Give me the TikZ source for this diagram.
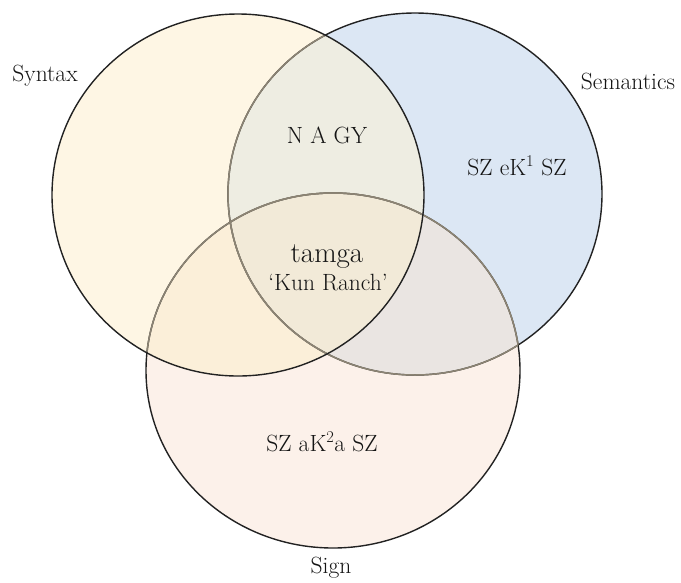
\documentclass[tikz,border=0pt]{standalone}
\definecolor{synC}{HTML}{FEF6E4}
\definecolor{semC}{HTML}{DCE7F4}
\definecolor{sigC}{HTML}{FCF1EA}
\definecolor{synsemC}{HTML}{EEEDE2}
\definecolor{synsigC}{HTML}{FBEFD9}
\definecolor{semsigC}{HTML}{EAE5E2}
\definecolor{allC}{HTML}{F2EAD8}
\definecolor{edgeC}{HTML}{222222}
\definecolor{inedgeC}{HTML}{8C8474}
\begin{document}
\begin{tikzpicture}[x=1pt,y=-1pt,
  lbl/.style={inner sep=0pt,font=\fontsize{23.5}{27}\selectfont,text=black!92},
  big/.style={inner sep=0pt,font=\fontsize{29}{33}\selectfont,text=black!92},
  outline/.style={draw=edgeC,line width=1.4pt},
  inline/.style={draw=inedgeC,line width=1.5pt}]
\useasboundingbox (0,0) rectangle (681,582);
\def\synP{(238,195) ellipse [x radius=186,y radius=181]}
\def\semP{(415,194) ellipse [x radius=187,y radius=181]}
\def\sigP{(333,370.5) ellipse [x radius=187,y radius=177.5]}
% base fills
\fill[synC] \synP;
\fill[semC] \semP;
\fill[sigC] \sigP;
% pairwise overlaps
\begin{scope}
  \clip \synP;
  \fill[synsemC] \semP;
  \fill[synsigC] \sigP;
\end{scope}
\begin{scope}
  \clip \semP;
  \fill[semsigC] \sigP;
\end{scope}
\begin{scope}
  \clip \synP;
  \clip \semP;
  \fill[allC] \sigP;
\end{scope}
% outlines
\draw[outline] \sigP;
\draw[outline] \semP;
\begin{scope}
  \clip \synP;
  \draw[inline] \semP;
  \draw[inline] \sigP;
\end{scope}
\begin{scope}
  \clip \semP;
  \draw[inline] \sigP;
\end{scope}
\begin{scope}
  \clip \sigP;
  \draw[inline] \semP;
\end{scope}
\draw[outline] \synP;
% labels
\node[lbl] (syntax) at (45,76) {Syntax};
\node[lbl] (semantics) at (628,81) {Semantics};
\node[lbl] (sign) at (331,568) {Sign};
\node[lbl] (nagy) at (327,135) {N A GY};
\node[lbl] (sem1) at (517,166) {SZ eK\textsuperscript{1} SZ};
\node[big] (tamga) at (327,257) {tamga};
\node[lbl] (kun) at (328,283) {`Kun Ranch'};
\node[lbl] (sig2) at (322,442) {SZ aK\textsuperscript{2}a SZ};
\end{tikzpicture}
\end{document}
